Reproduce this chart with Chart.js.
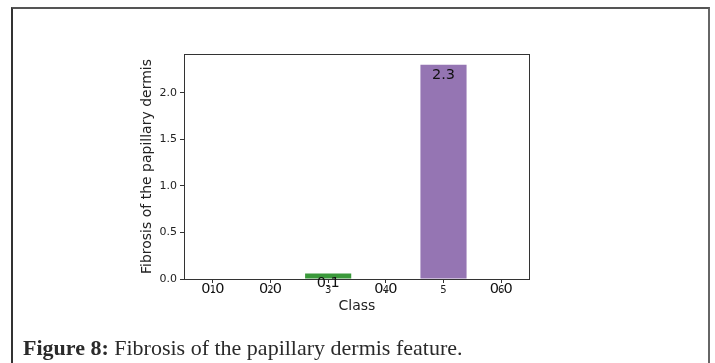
<!DOCTYPE html>
<html>
<head>
<meta charset="utf-8">
<script src="https://cdn.jsdelivr.net/npm/chart.js@4.4.1/dist/chart.umd.min.js"></script>
<style>
  html, body { margin: 0; padding: 0; background: #fff; }
  body { width: 715px; height: 363px; position: relative; overflow: hidden; }
  #frame {
    position: absolute; left: 11px; top: 7px; width: 695px; height: 400px;
    border: 2px solid #333; border-right-color: #666; border-top-color: #555;
  }
  #chart { position: absolute; left: 0; top: 0; }
  #caption {
    position: absolute; left: 23px; top: 337px; line-height: 22px;
    font-family: "Liberation Serif", "DejaVu Serif", serif; font-size: 22px; color: #2a2a2a;
    white-space: nowrap;
  }
</style>
</head>
<body>
<div id="frame"></div>
<canvas id="chart" width="715" height="363"></canvas>
<div id="caption"><b>Figure 8:</b> Fibrosis of the papillary dermis feature.</div>
<script>
const classes = ['1', '2', '3', '4', '5', '6'];
const values = [0, 0, 0.06, 0, 2.3, 0];
const valueLabels = ['0.0', '0.0', '0.1', '0.0', '2.3', '0.0'];
const yTicks = [0, 0.5, 1.0, 1.5, 2.0];
const barColors = ['#1f77b4', '#ff7f0e', '#3a993a', '#d62728', '#9575b3', '#8c564b'];

// axes frame (all four spines) + value labels hanging from the top of each bar
const framePlugin = {
    id: 'frame',
    afterDraw(chart) {
        const { ctx, chartArea: a } = chart;
        ctx.save();
        ctx.strokeStyle = '#333';
        ctx.lineWidth = 1;
        ctx.strokeRect(a.left + 0.5, a.top + 0.5, a.right - a.left - 1, a.bottom - a.top);
        const meta = chart.getDatasetMeta(0);
        ctx.fillStyle = '#111';
        ctx.font = '14.5px "DejaVu Sans"';
        ctx.textAlign = 'center';
        ctx.textBaseline = 'top';
        meta.data.forEach((bar, i) => {
            ctx.fillText(valueLabels[i], bar.x, bar.y + 3);
        });
        ctx.restore();
    }
};

new Chart(document.getElementById('chart'), {
    type: 'bar',
    data: {
        labels: classes,
        datasets: [{
            data: values,
            backgroundColor: barColors,
            categoryPercentage: 0.8,
            barPercentage: 1.0
        }]
    },
    options: {
        responsive: false,
        animation: false,
        layout: { padding: { left: 139, top: 54, right: 185, bottom: 48 } },
        plugins: { legend: { display: false }, tooltip: { enabled: false } },
        scales: {
            x: {
                offset: true,
                grid: { display: true, offset: false, drawOnChartArea: false, tickLength: 4, color: '#333' },
                border: { display: false },
                ticks: { color: '#222', font: { family: 'DejaVu Sans', size: 10 }, padding: 1 },
                title: { display: true, text: 'Class', color: '#222', padding: 0,
                    font: { family: 'DejaVu Sans', size: 14 } },
                afterFit(s) { s.height = 36; }
            },
            y: {
                min: 0,
                max: 2.415,
                afterBuildTicks(s) { s.ticks = yTicks.map(v => ({ value: v })); },
                grid: { display: true, drawOnChartArea: false, tickLength: 4, color: '#333' },
                border: { display: false },
                ticks: { color: '#222', font: { family: 'DejaVu Sans', size: 11 }, padding: 3,
                    callback: v => v.toFixed(1) },
                title: { display: true, text: 'Fibrosis of the papillary dermis', color: '#222', padding: 0,
                    font: { family: 'DejaVu Sans', size: 14 } },
                afterFit(s) { s.width = 45; }
            }
        }
    },
    plugins: [framePlugin]
});
</script>
</body>
</html>
